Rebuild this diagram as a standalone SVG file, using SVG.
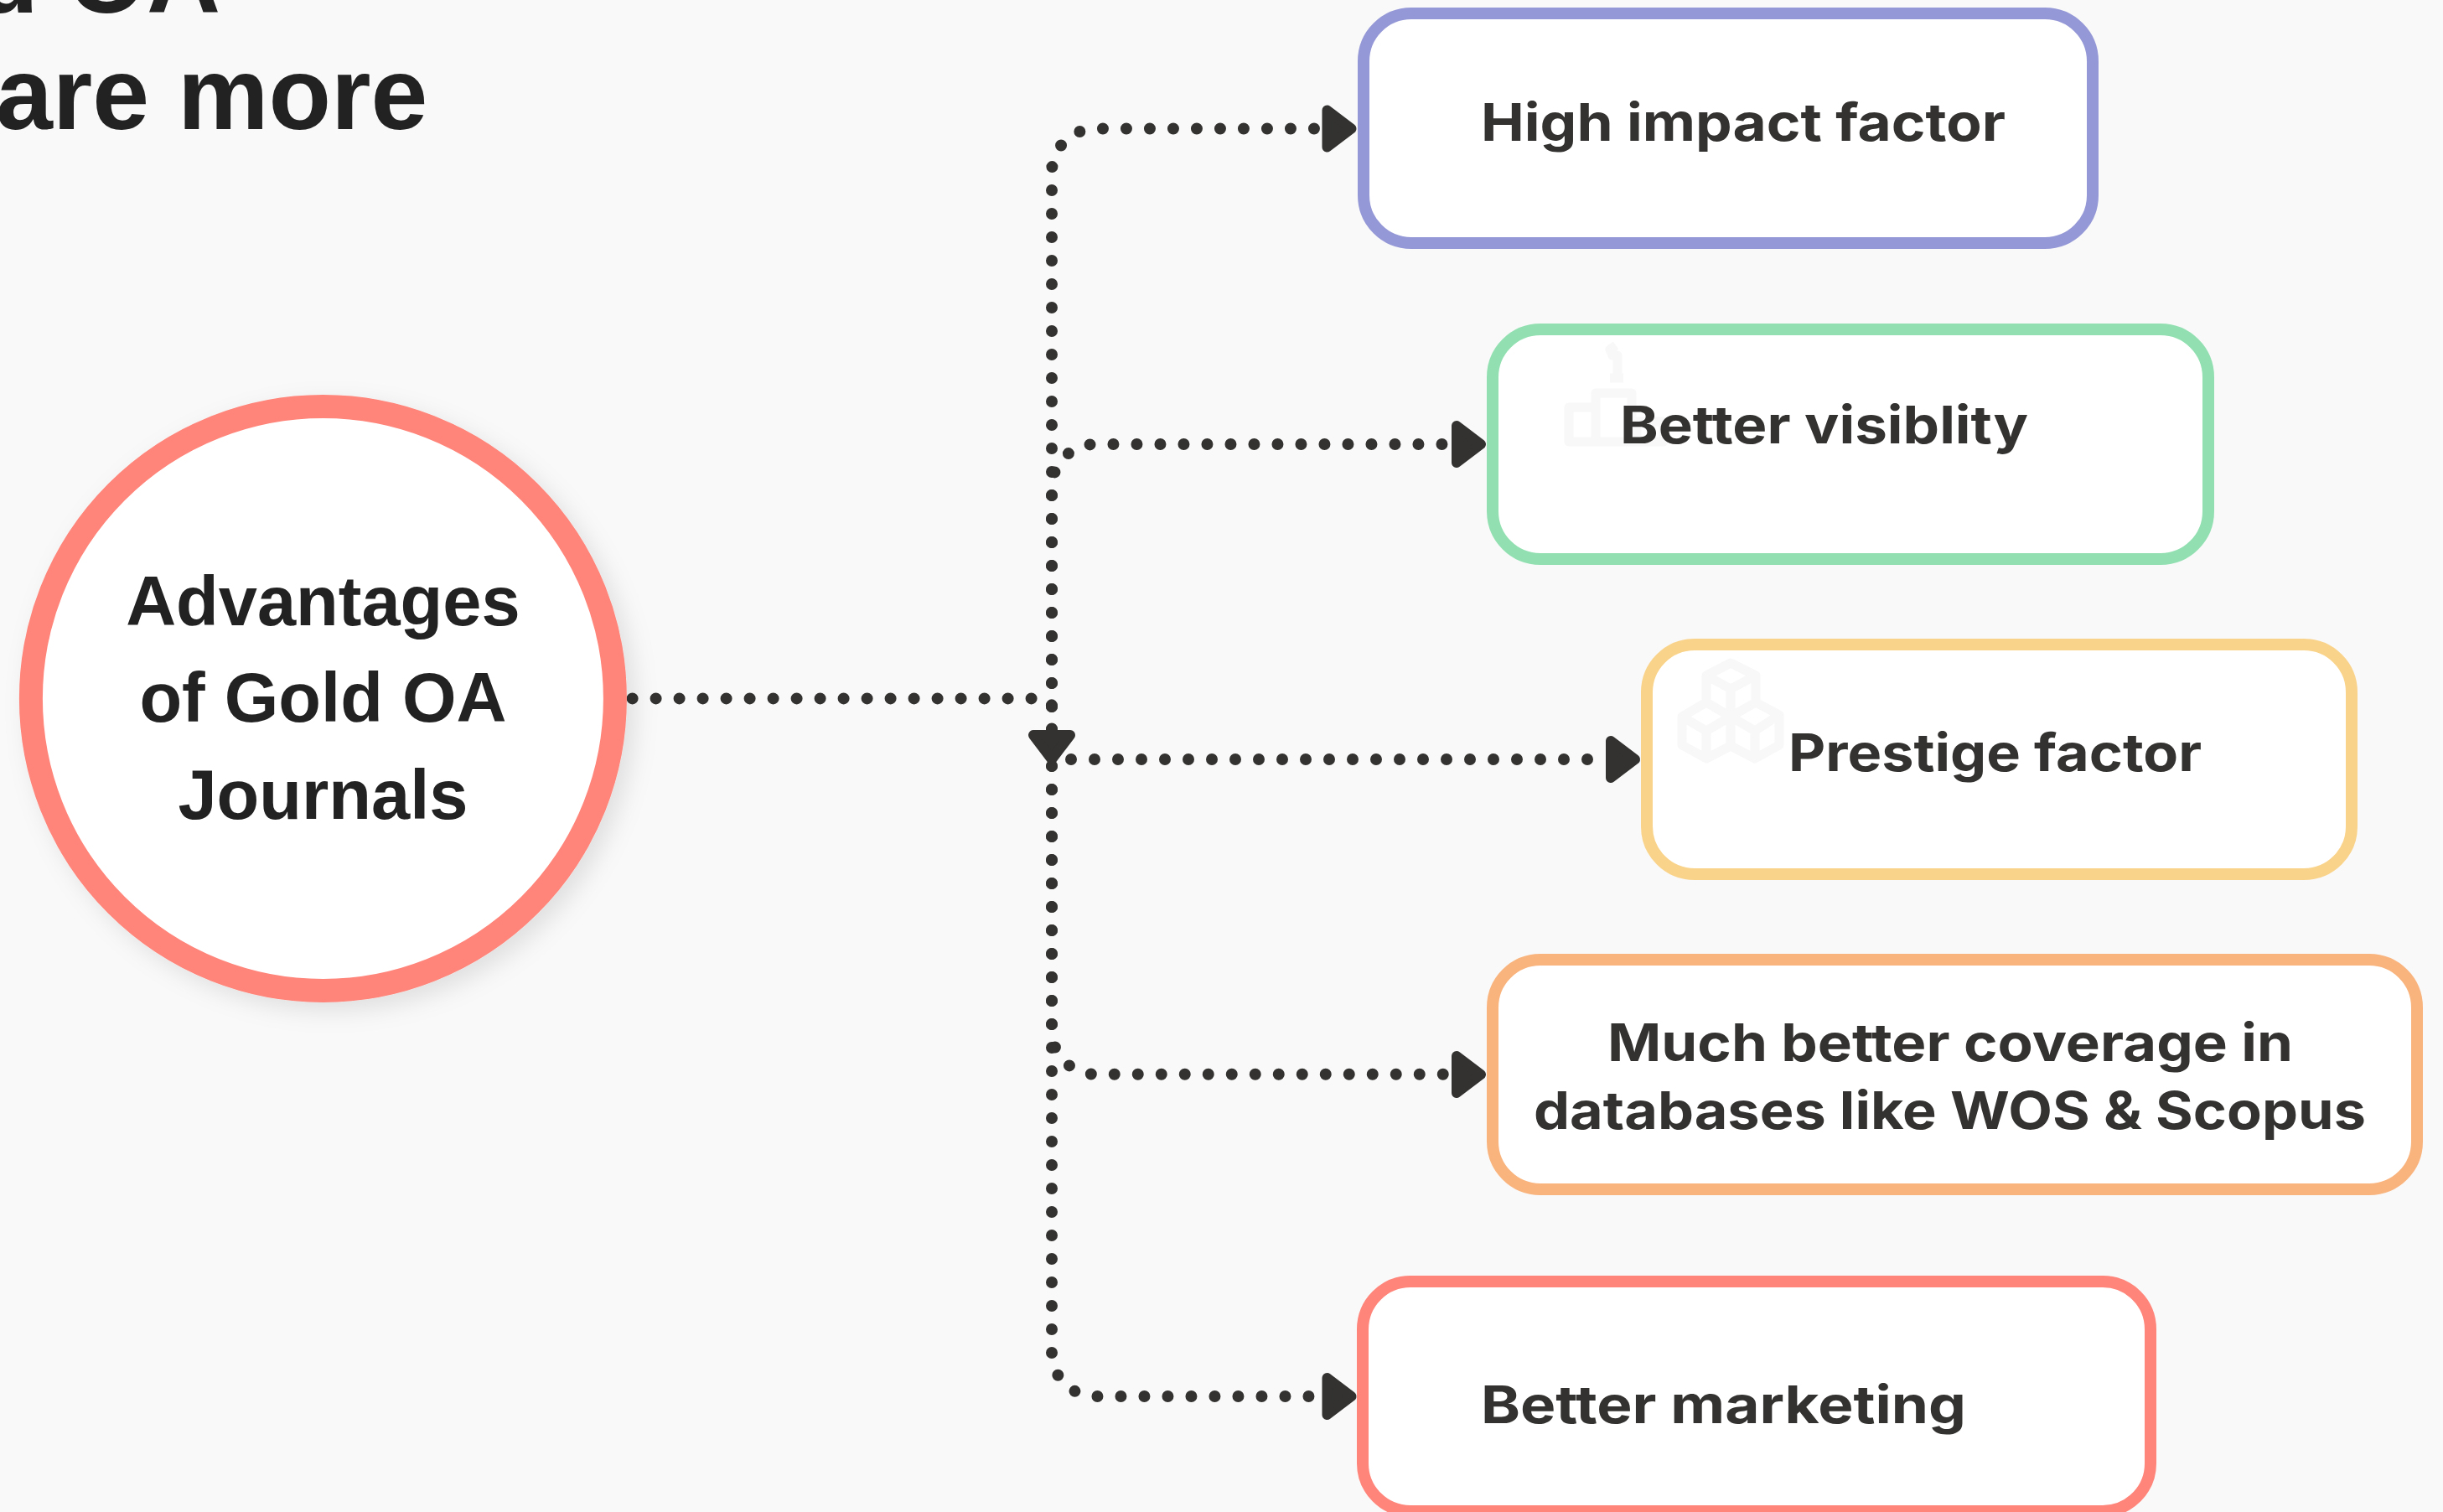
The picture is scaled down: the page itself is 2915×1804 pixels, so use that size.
<svg xmlns="http://www.w3.org/2000/svg" width="2915" height="1804" viewBox="0 0 2915 1804">
<style>
.bg{fill:#f9f9f9}
.box{fill:#fff;stroke-width:14}
.lbl{font-family:"Inter","Noto Sans","Liberation Sans",sans-serif;font-weight:700;font-size:62px;fill:#333230}
.ttl{font-family:"Liberation Sans",Arial,sans-serif;font-weight:700;font-size:122px;fill:#222}
.cir{font-family:"Liberation Sans",Arial,sans-serif;font-weight:700;font-size:83px;fill:#222;text-anchor:middle}
.dot{fill:none;stroke:#333230;stroke-width:14;stroke-linecap:round;stroke-dasharray:0 28}
.ico{fill:none;stroke:#f8f8f8;stroke-width:11;stroke-linejoin:round}
</style>
<defs>
<path id="ah" d="M-36 -22L-7 0L-36 22Z" fill="#333230" stroke="#333230" stroke-width="12" stroke-linejoin="round"/>
<filter id="sh" x="-10%" y="-10%" width="125%" height="125%"><feDropShadow dx="10" dy="10" stdDeviation="14" flood-color="#000" flood-opacity="0.1"/></filter>
</defs>
<rect class="bg" width="2915" height="1804"/>
<g id="title">
<text class="ttl" x="263" y="14.5" text-anchor="end">d OA</text>
<text class="ttl" x="-5" y="154">are more</text>
</g>
<g id="connectors">
<path class="dot" d="M754.6 833.4H1241Q1255 833.4 1255 843V871"/>
<path class="dot" d="M1255 871V205.5A52 52 0 0 1 1307 153.5H1570"/>
<path class="dot" d="M1255 871V582A52 52 0 0 1 1307 530H1725"/>
<path class="dot" d="M1278 906H1900"/>
<path class="dot" d="M1255 914V1229.7A52 52 0 0 0 1307 1281.7H1725"/>
<path class="dot" d="M1255 914V1614A52 52 0 0 0 1307 1666H1566"/>
<use href="#ah" transform="translate(1619.5 153.5)"/>
<use href="#ah" transform="translate(1774 530)"/>
<use href="#ah" transform="translate(1958 906)"/>
<use href="#ah" transform="translate(1774 1282)"/>
<use href="#ah" transform="translate(1619.5 1666)"/>
<use href="#ah" transform="translate(1255 913) rotate(90)"/>
</g>
<g id="node-center">
<circle cx="385.4" cy="833.5" r="348.5" fill="#fff" stroke="#ff8479" stroke-width="28" filter="url(#sh)"/>
<text class="cir" x="385.4" y="746">Advantages</text>
<text class="cir" x="385.4" y="861">of Gold OA</text>
<text class="cir" x="385.4" y="976.5">Journals</text>
</g>
<g id="node-impact">
<rect class="box" x="1627" y="16" width="870" height="274" rx="57" stroke="#9598d6"/>
<text class="lbl" x="1767" y="168" textLength="626" lengthAdjust="spacingAndGlyphs">High impact factor</text>
</g>
<g id="node-visibility">
<rect class="box" x="1781" y="393" width="854" height="274" rx="57" stroke="#92e0b1"/>
<path class="ico" d="M1904 527V486H1872V527H1985V503H1953V527M1904 486V469H1947V527M1928 412L1921 417L1924 424H1930V451M1921 451H1937"/>
<text class="lbl" x="1933" y="529" textLength="487" lengthAdjust="spacingAndGlyphs">Better visiblity</text>
</g>
<g id="node-prestige">
<rect class="box" x="1965" y="769" width="841" height="274" rx="57" stroke="#fad38a"/>
<path class="ico" d="M2065 791L2095 806V838L2123 853V889L2094 905L2065 890L2036 905L2007 889V855L2036 838V806ZM2036 806L2065 822L2095 806M2065 822V890M2007 855L2036 872L2065 855L2094 872L2123 853M2036 872V905M2094 872V905M2036 838L2065 855L2095 838"/>
<text class="lbl" x="2134" y="920" textLength="493" lengthAdjust="spacingAndGlyphs">Prestige factor</text>
</g>
<g id="node-coverage">
<rect class="box" x="1781" y="1145" width="1103" height="274" rx="57" stroke="#f9b47e"/>
<text class="lbl" x="1918" y="1266" textLength="818" lengthAdjust="spacingAndGlyphs">Much better coverage in</text>
<text class="lbl" x="1830" y="1347" textLength="993" lengthAdjust="spacingAndGlyphs">databases like WOS &amp; Scopus</text>
</g>
<g id="node-marketing">
<rect class="box" x="1626" y="1529" width="940" height="274" rx="57" stroke="#ff8479"/>
<text class="lbl" x="1767" y="1698" textLength="579" lengthAdjust="spacingAndGlyphs">Better marketing</text>
</g>
</svg>
